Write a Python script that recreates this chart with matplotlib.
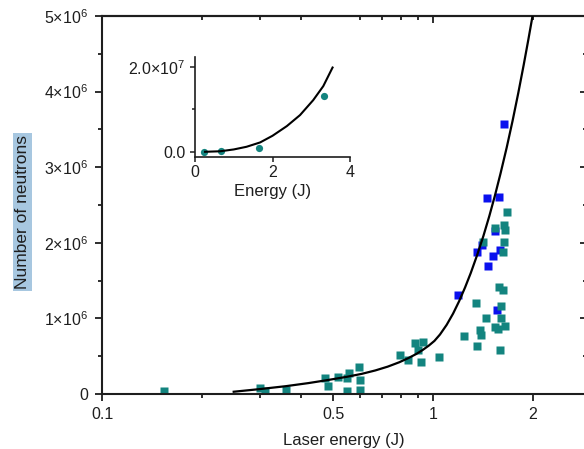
import matplotlib
matplotlib.use("Agg")
import matplotlib.pyplot as plt
from matplotlib.ticker import FixedLocator, MultipleLocator, NullFormatter

plt.rcParams['font.family'] = ['Liberation Sans', 'DejaVu Sans']
plt.rcParams['mathtext.fontset'] = 'custom'
plt.rcParams['mathtext.rm'] = 'Liberation Sans'
plt.rcParams['mathtext.it'] = 'Liberation Sans:italic'
plt.rcParams['mathtext.bf'] = 'Liberation Sans:bold'

# ---- main panel: neutron yield vs laser energy ----
teal_energy = [0.154, 0.300, 0.311, 0.360, 0.472, 0.481, 0.515, 0.548, 0.558,
               0.550, 0.599, 0.601, 0.601, 0.795, 0.842, 0.882, 0.935, 0.901,
               0.920, 1.045, 1.241, 1.349, 1.361, 1.387, 1.392, 1.443, 1.539,
               1.575, 1.650, 1.594, 1.586, 1.631, 1.601, 1.601, 1.419, 1.539,
               1.642, 1.650, 1.670, 1.642, 1.631]
teal_neutrons = [0.04, 0.08, 0.046, 0.05, 0.21, 0.11, 0.22, 0.21, 0.28,
                 0.04, 0.36, 0.19, 0.05, 0.52, 0.45, 0.67, 0.69, 0.58,
                 0.42, 0.49, 0.77, 1.20, 0.63, 0.85, 0.78, 1.00, 0.89,
                 0.86, 0.90, 0.58, 1.42, 1.38, 1.16, 1.01, 2.01, 2.20,
                 2.24, 2.17, 2.41, 2.01, 1.88]

blue_energy = [1.642, 1.453, 1.586, 1.539, 1.403, 1.361, 1.514, 1.594, 1.463,
               1.187, 1.557]
blue_neutrons = [3.57, 2.59, 2.60, 2.16, 1.97, 1.88, 1.82, 1.91, 1.69,
                 1.31, 1.11]

fit_energy = [0.25, 0.30, 0.36, 0.42, 0.48, 0.55, 0.61, 0.67, 0.73, 0.79,
              0.84, 0.89, 0.93, 0.97, 1.01, 1.05, 1.10, 1.15, 1.20, 1.25,
              1.30, 1.36, 1.42, 1.48, 1.54, 1.60, 1.67, 1.74, 1.81, 1.88,
              1.94, 2.00]
fit_neutrons = [0.030, 0.065, 0.104, 0.144, 0.184, 0.228, 0.267, 0.312, 0.362,
                0.419, 0.472, 0.529, 0.581, 0.638, 0.702, 0.787, 0.915, 1.063,
                1.229, 1.409, 1.598, 1.839, 2.089, 2.354, 2.630, 2.917, 3.259,
                3.614, 3.980, 4.354, 4.679, 5.005]

# neutron counts above are in units of 1e6
teal_neutrons = [v * 1e6 for v in teal_neutrons]
blue_neutrons = [v * 1e6 for v in blue_neutrons]
fit_neutrons = [v * 1e6 for v in fit_neutrons]

x_ticks = [0.1, 0.5, 1, 2]
x_tick_labels = ['0.1', '0.5', '1', '2']
x_minor_ticks = [0.2, 0.3, 0.4, 0.6, 0.7, 0.8, 0.9]
y_ticks = [0, 1e6, 2e6, 3e6, 4e6, 5e6]
y_tick_labels = ['0', r'$1{\times}10^{6}$', r'$2{\times}10^{6}$',
                 r'$3{\times}10^{6}$', r'$4{\times}10^{6}$', r'$5{\times}10^{6}$']

# ---- inset: linear energy scale ----
inset_energy = [0.24, 0.66, 1.66, 3.33]
inset_neutrons = [0.0, 0.016e7, 0.08e7, 1.32e7]
inset_fit_energy = [0.26, 0.65, 1.00, 1.33, 1.68, 2.00, 2.37, 2.71, 3.05, 3.31, 3.55]
inset_fit_neutrons = [0.0, 0.012e7, 0.055e7, 0.118e7, 0.22e7, 0.377e7, 0.605e7,
                      0.864e7, 1.216e7, 1.546e7, 1.985e7]
inset_x_ticks = [0, 2, 4]
inset_x_tick_labels = ['0', '2', '4']
inset_y_ticks = [0, 2e7]
inset_y_tick_labels = ['0.0', r'$2.0{\times}10^{7}$']

TEAL = '#13847f'
BLUE = '#0a10ee'
INK = '#1e1e1e'

W, H = 584, 449
fig = plt.figure(figsize=(W / 100, H / 100), dpi=100)

ax = fig.add_axes([102 / W, (H - 394) / H, 485 / W, 378 / H])
ax.set_xscale('log')
ax.set_xlim(0.1, 2.92)
ax.set_ylim(0, 5e6)

ax.plot(blue_energy, blue_neutrons, 's', ms=5.8, color=BLUE, mec='none', zorder=2)
ax.plot(teal_energy, teal_neutrons, 's', ms=5.8, color=TEAL, mec='none', zorder=2)
ax.plot(fit_energy, fit_neutrons, '-', color='black', lw=1.6, zorder=3,
        solid_joinstyle='round')

ax.set_xticks(x_ticks, x_tick_labels)
ax.xaxis.set_minor_locator(FixedLocator(x_minor_ticks))
ax.xaxis.set_minor_formatter(NullFormatter())
ax.set_yticks(y_ticks, y_tick_labels)
ax.yaxis.set_minor_locator(MultipleLocator(5e5))

for s in ax.spines.values():
    s.set_linewidth(1.5)
    s.set_color(INK)
ax.tick_params(which='both', direction='out', width=1.3, color=INK,
               labelcolor=INK, labelsize=11.5)
ax.tick_params(which='major', length=5.2)
ax.tick_params(which='minor', length=3)
ax.tick_params(axis='x', pad=4.5)
ax.tick_params(axis='y', pad=5)

# inward ticks on the top and right frame
top = ax.secondary_xaxis('top')
top.set_xticks([0.1, 1])
top.xaxis.set_minor_locator(FixedLocator(x_minor_ticks + [2]))
top.xaxis.set_major_formatter(NullFormatter())
top.xaxis.set_minor_formatter(NullFormatter())
top.tick_params(which='both', direction='in', width=1.3, color=INK)
top.tick_params(which='major', length=5.2)
top.tick_params(which='minor', length=3)
top.spines['top'].set_linewidth(1.5)

right = ax.secondary_yaxis('right')
right.set_yticks(y_ticks)
right.yaxis.set_minor_locator(MultipleLocator(5e5))
right.yaxis.set_major_formatter(NullFormatter())
right.tick_params(which='both', direction='in', width=1.3, color=INK)
right.tick_params(which='major', length=5.2)
right.tick_params(which='minor', length=3)
right.spines['right'].set_linewidth(1.5)

fig.text(343.5 / W, (H - 445) / H, 'Laser energy (J)', ha='center', va='baseline',
         fontsize=12, color=INK)
fig.text(22.7 / W, 1 - 212 / H, 'Number of neutrons', rotation=90, ha='center',
         va='center', fontsize=12.5, color=INK,
         bbox=dict(boxstyle='square,pad=0.12', fc='#a7c7e0', ec='none'))

# inset
axi = fig.add_axes([195 / W, (H - 157.3) / H, 155 / W, 100.6 / H])
axi.set_xlim(0, 4)
axi.set_ylim(-1.3e6, 2.24e7)
axi.plot(inset_fit_energy, inset_fit_neutrons, '-', color='black', lw=1.5, zorder=3,
         solid_joinstyle='round')
axi.plot(inset_energy, inset_neutrons, 'o', ms=5.2, color=TEAL, mec='none', zorder=2)
axi.spines['top'].set_visible(False)
axi.spines['right'].set_visible(False)
for s in ('left', 'bottom'):
    axi.spines[s].set_linewidth(1.2)
    axi.spines[s].set_color(INK)
axi.set_xticks(inset_x_ticks, inset_x_tick_labels)
axi.set_yticks(inset_y_ticks, inset_y_tick_labels)
axi.yaxis.set_minor_locator(FixedLocator([1e7]))
axi.tick_params(which='both', direction='out', width=1.1, color=INK,
                labelcolor=INK, labelsize=11.5)
axi.tick_params(which='major', length=3.5)
axi.tick_params(which='minor', length=2.2)
axi.tick_params(axis='x', pad=2)
axi.tick_params(axis='y', pad=3.5)
axi.set_xlabel('Energy (J)', fontsize=12, color=INK, labelpad=3)

fig.savefig('out.png', dpi=100)
